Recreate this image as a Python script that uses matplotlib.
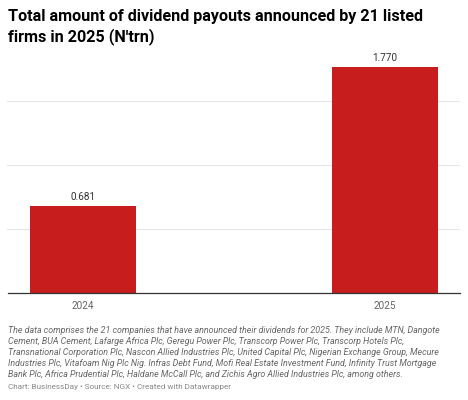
import matplotlib.pyplot as plt

years = ["2024", "2025"]
payouts = [0.681, 1.770]
grid_ticks = [0.5, 1.0, 1.5]

title = "Total amount of dividend payouts announced by 21 listed\nfirms in 2025 (N'trn)"
note = ("The data comprises the 21 companies that have announced their dividends for 2025. They include MTN, Dangote\n"
        "Cement, BUA Cement, Lafarge Africa Plc, Geregu Power Plc, Transcorp Power Plc, Transcorp Hotels Plc,\n"
        "Transnational Corporation Plc, Nascon Allied Industries Plc, United Capital Plc, Nigerian Exchange Group, Mecure\n"
        "Industries Plc, Vitafoam Nig Plc Nig. Infras Debt Fund, Mofi Real Estate Investment Fund, Infinity Trust Mortgage\n"
        "Bank Plc, Africa Prudential Plc, Haldane McCall Plc, and Zichis Agro Allied Industries Plc, among others.")
credit = "Chart: BusinessDay \u2022 Source: NGX \u2022 Created with Datawrapper"

plt.rcParams['font.family'] = ['Roboto', 'DejaVu Sans']

fig = plt.figure(figsize=(4.68, 4.0), dpi=100)
W, H = 468, 400
# axes: x 7.5..460, y baseline 293, top 60
ax = fig.add_axes([7.5 / W, 1 - 293 / H, (460 - 7.5) / W, (293 - 60) / H])

x = range(len(years))
bars = ax.bar(x, payouts, width=0.351, color="#c71e1d", zorder=2)
for xi, v in zip(x, payouts):
    ax.text(xi, v + 0.03, f"{v:.3f}", ha="center", va="bottom", fontsize=7.2, color="#333333")

ax.set_xlim(-0.25, 1.25)
ax.set_ylim(0, (293 - 60) / 127.8)
ax.set_yticks(grid_ticks)
ax.yaxis.grid(True, color="#e6e6e6", linewidth=0.8, zorder=0)
ax.tick_params(axis="y", left=False, labelleft=False)
ax.set_xticks(list(x))
ax.set_xticklabels(years, fontsize=7.2, color="#666666")
ax.tick_params(axis="x", length=0, pad=6)
for s in ["top", "right", "left"]:
    ax.spines[s].set_visible(False)
ax.spines["bottom"].set_color("#333333")
ax.spines["bottom"].set_linewidth(0.9)

fig.text(8 / W, 1 - 27 / H, title, ha="left", va="center", fontsize=11.6,
         fontweight="bold", color="#000000", linespacing=1.3)
fig.text(8 / W, 1 - 352.5 / H, note, ha="left", va="center", fontsize=6.4,
         style="italic", color="#666666", linespacing=1.3)
fig.text(8 / W, 1 - 387.5 / H, credit, ha="left", va="center", fontsize=5.9,
         color="#888888")

fig.savefig("out.png", dpi=100)
